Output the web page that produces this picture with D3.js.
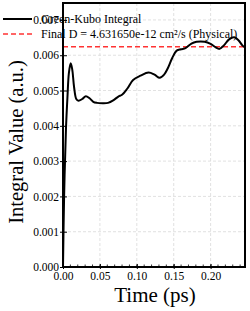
<!DOCTYPE html>
<html><head><meta charset="utf-8">
<script src="https://cdn.jsdelivr.net/npm/d3@7"></script>
<style>body{margin:0;background:#fff}svg{display:block}</style>
</head><body>
<script>
const timePs = [0, 0.0015, 0.004, 0.006, 0.008, 0.0104, 0.0125, 0.015, 0.018, 0.021, 0.026, 0.031, 0.036, 0.041, 0.046, 0.054, 0.061, 0.068, 0.075, 0.08, 0.087, 0.095, 0.105, 0.116, 0.124, 0.131, 0.137, 0.142, 0.148, 0.154, 0.160, 0.166, 0.174, 0.181, 0.192, 0.200, 0.207, 0.212, 0.218, 0.225, 0.232, 0.238, 0.243, 0.2466];
const integral = [0, 0.0020, 0.0039, 0.0048, 0.0055, 0.00577, 0.0056, 0.0051, 0.00476, 0.00471, 0.00476, 0.00484, 0.00478, 0.00468, 0.00465, 0.00464, 0.00465, 0.00472, 0.00483, 0.00488, 0.00505, 0.0053, 0.00542, 0.00551, 0.00545, 0.00536, 0.00545, 0.00563, 0.00592, 0.00613, 0.00617, 0.0062, 0.00633, 0.00638, 0.00638, 0.00632, 0.00622, 0.00618, 0.00628, 0.00645, 0.00651, 0.00642, 0.00628, 0.00622];
const finalValue = 0.00624;
const xTicks = [0, 0.05, 0.10, 0.15, 0.20];
const yTicks = [0, 0.001, 0.002, 0.003, 0.004, 0.005, 0.006, 0.007];
const legendLabels = ["Green-Kubo Integral", "Final D = 4.631650e-12 cm²/s (Physical)"];

const W = 250, H = 311;
const L = 63, R = 245, T = 3, B = 267;
const font = "'Liberation Serif', 'Times New Roman', serif";
const svg = d3.select("body").append("svg").attr("width", W).attr("height", H);
const x = d3.scaleLinear().domain([0, 0.2466]).range([L, R]);
const y = d3.scaleLinear().domain([0, 0.00748]).range([B, T]);

// grid
svg.append("g").selectAll("line").data(xTicks.slice(1)).join("line")
  .attr("x1", d => x(d)).attr("x2", d => x(d)).attr("y1", T).attr("y2", B)
  .attr("stroke", "#d9d9d9").attr("stroke-width", 0.8).attr("stroke-dasharray", "3,2");
svg.append("g").selectAll("line").data(yTicks.slice(1)).join("line")
  .attr("y1", d => y(d)).attr("y2", d => y(d)).attr("x1", L).attr("x2", R)
  .attr("stroke", "#d9d9d9").attr("stroke-width", 0.8).attr("stroke-dasharray", "3,2");

// red dashed final line
svg.append("line").attr("x1", L).attr("x2", R).attr("y1", y(finalValue)).attr("y2", y(finalValue))
  .attr("stroke", "#ff3333").attr("stroke-width", 1.5).attr("stroke-dasharray", "5,3");

// curve
const line = d3.line().x((d, i) => x(timePs[i])).y(d => y(d)).curve(d3.curveCatmullRom.alpha(0.5));
svg.append("path").datum(integral).attr("d", line).attr("fill", "none")
  .attr("stroke", "#000").attr("stroke-width", 2);

// axes
const xAxis = d3.axisBottom(x).tickValues(xTicks).tickFormat(d3.format(".2f")).tickSizeInner(3).tickSizeOuter(0).tickPadding(2);
const gx = svg.append("g").attr("transform", `translate(0,${B})`).call(xAxis);
gx.select(".domain").remove();
gx.selectAll(".tick line").attr("y1", -3).attr("y2", 2).attr("stroke-width", 1);
gx.selectAll("text").attr("font-family", font).attr("font-size", 11.5).attr("fill", "#000");
// minor x ticks
svg.append("g").selectAll("line").data(d3.range(0.01, 0.2466, 0.01)).join("line")
  .attr("x1", d => x(d)).attr("x2", d => x(d)).attr("y1", B).attr("y2", B - 2.5)
  .attr("stroke", "#000").attr("stroke-width", 0.8);

const yAxis = d3.axisLeft(y).tickValues(yTicks).tickFormat(d3.format(".3f")).tickSizeInner(3).tickSizeOuter(0).tickPadding(1);
const gy = svg.append("g").attr("transform", `translate(${L},0)`).call(yAxis);
gy.select(".domain").remove();
gy.selectAll(".tick line").attr("x1", -3).attr("x2", 4).attr("stroke-width", 1);
gy.selectAll("text").attr("font-family", font).attr("font-size", 11.5).attr("fill", "#000");

// frame
svg.append("rect").attr("x", L).attr("y", T).attr("width", R - L).attr("height", B - T)
  .attr("fill", "none").attr("stroke", "#000").attr("stroke-width", 2);

// labels
svg.append("text").attr("x", 155).attr("y", 302).attr("text-anchor", "middle")
  .attr("font-family", font).attr("font-size", 21).text("Time (ps)");
svg.append("text").attr("transform", `translate(23,142) rotate(-90)`).attr("text-anchor", "middle")
  .attr("font-family", font).attr("font-size", 20.5).text("Integral Value (a.u.)");

// legend
const lg = svg.append("g");
lg.append("line").attr("x1", 3).attr("x2", 32).attr("y1", 19).attr("y2", 19).attr("stroke", "#000").attr("stroke-width", 2);
lg.append("line").attr("x1", 3).attr("x2", 32).attr("y1", 34).attr("y2", 34).attr("stroke", "#ff3333").attr("stroke-width", 1.5).attr("stroke-dasharray", "5,3");
lg.selectAll("text").data(legendLabels).join("text")
  .attr("x", 41).attr("y", (d, i) => 23 + i * 15)
  .attr("font-family", font).attr("font-size", 12).attr("fill", "#000").text(d => d);
</script>
</body></html>
